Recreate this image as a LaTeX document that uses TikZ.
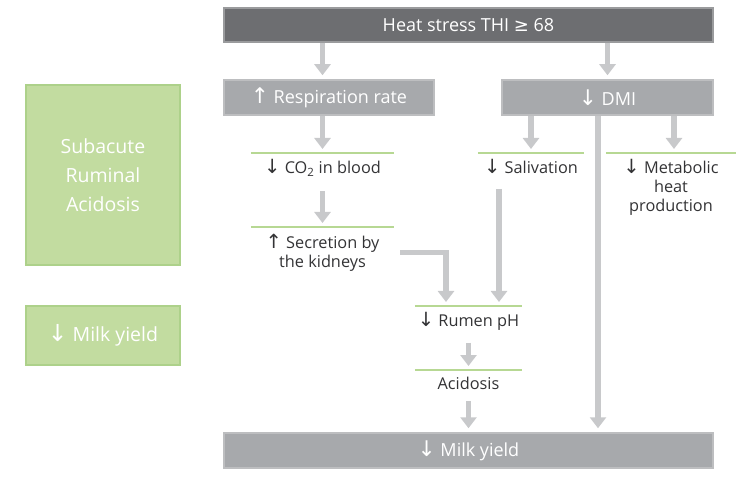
\documentclass[tikz,border=0pt]{standalone}
\usepackage{fontspec}
\setmainfont{Open Sans}
\newfontfamily\symf{DejaVu Sans}
\usetikzlibrary{arrows.meta}
\definecolor{darkbox}{HTML}{6D6E71}
\definecolor{darkedge}{HTML}{9A9B9D}
\definecolor{greybox}{HTML}{A7A9AC}
\definecolor{greyedge}{HTML}{BDBEC0}
\definecolor{arrowgrey}{HTML}{C8C9CB}
\definecolor{greenfill}{HTML}{C2DCA0}
\definecolor{greenedge}{HTML}{ADD18A}
\definecolor{gline}{HTML}{B7D893}
\definecolor{txt}{HTML}{333335}
\newcommand{\dn}{{\symf\scalebox{1.2}{\char"2193}}}
\newcommand{\upa}{{\symf\scalebox{1.2}{\char"2191}}}
\tikzset{
  bigbox/.style={draw=greyedge, line width=1.5pt, fill=greybox, text=white,
    font=\fontsize{18}{22}\selectfont, inner sep=0pt},
  topbox/.style={bigbox, draw=darkedge, fill=darkbox},
  greenbox/.style={draw=greenedge, line width=1.5pt, fill=greenfill, text=white,
    font=\fontsize{19.5}{29}\selectfont, inner sep=0pt, align=center},
  lab/.style={anchor=north, inner xsep=0pt, inner ysep=6.5pt, text=txt,
    font=\fontsize{16.3}{19}\selectfont, align=center},
  gl/.style={draw=gline, line width=2.5pt},
  arr/.style={draw=arrowgrey, line width=5.5pt,
    -{Triangle[width=16pt,length=11pt]}, shorten >=4pt}
}
\begin{document}
\begin{tikzpicture}[x=1pt,y=-1pt]
\useasboundingbox (0,0) rectangle (748,492);
% boxes
\node[topbox, minimum width=489pt, minimum height=34pt] (top) at (468.5,25) {Heat stress THI {\symf\char"2265} 68};
\node[bigbox, minimum width=210pt, minimum height=35pt] (resp) at (329,97.5) {\upa\ Respiration rate};
\node[bigbox, minimum width=211pt, minimum height=35pt] (dmi) at (607.5,97.5) {\dn\ DMI};
\node[bigbox, minimum width=489pt, minimum height=35pt] (milk) at (468.5,450.5) {\dn\ Milk yield};
\node[greenbox, minimum width=154pt, minimum height=180pt] (sara) at (103,175) {Subacute\\Ruminal\\Acidosis};
\node[greenbox, minimum width=154pt, minimum height=59pt] (gmilk) at (103,335.5) {\dn\ Milk yield};
% labels with green lines
\node[lab, minimum width=143pt] (co2) at (322.5,153) {\dn\ CO\textsubscript{2} in blood};
\node[lab, minimum width=106pt] (sal) at (531,153) {\dn\ Salivation};
\node[lab, minimum width=130pt] (met) at (671,153) {\dn\ Metabolic\\heat\\production};
\node[lab, minimum width=143pt] (sec) at (322.5,227) {\upa\ Secretion by\\the kidneys};
\node[lab, minimum width=107pt] (rum) at (468.5,306) {\dn\ Rumen pH};
\node[lab, minimum width=107pt] (acid) at (468.5,370) {Acidosis};
\foreach \n in {co2,sal,met,sec,rum,acid}
  \draw[gl] (\n.north west) -- (\n.north east);
% arrows
\draw[arr] (top.south -| co2) -- (resp.north -| co2);
\draw[arr] (top.south -| dmi) -- (dmi.north);
\draw[arr] (resp.south -| co2) -- (co2.north);
\draw[arr] (dmi.south -| sal) -- (sal.north);
\draw[arr] ([xshift=3pt]dmi.south -| met) -- ([xshift=3pt]met.north);
\draw[arr] ([xshift=-9.5pt]dmi.south) -- ([xshift=-9.5pt]dmi.south |- milk.north);
\draw[arr, shorten <=8pt] (co2.south) -- (sec.north);
\draw[arr] ([xshift=6pt]sec.east) -| ([xshift=-22.5pt]rum.north);
\draw[arr, shorten <=8pt] ([xshift=-32pt]sal.south) -- ([xshift=30.5pt]rum.north);
\draw[arr, shorten <=5pt] (rum.south) -- (acid.north);
\draw[arr, shorten <=5pt] (acid.south) -- (acid.south |- milk.north);
\end{tikzpicture}
\end{document}
